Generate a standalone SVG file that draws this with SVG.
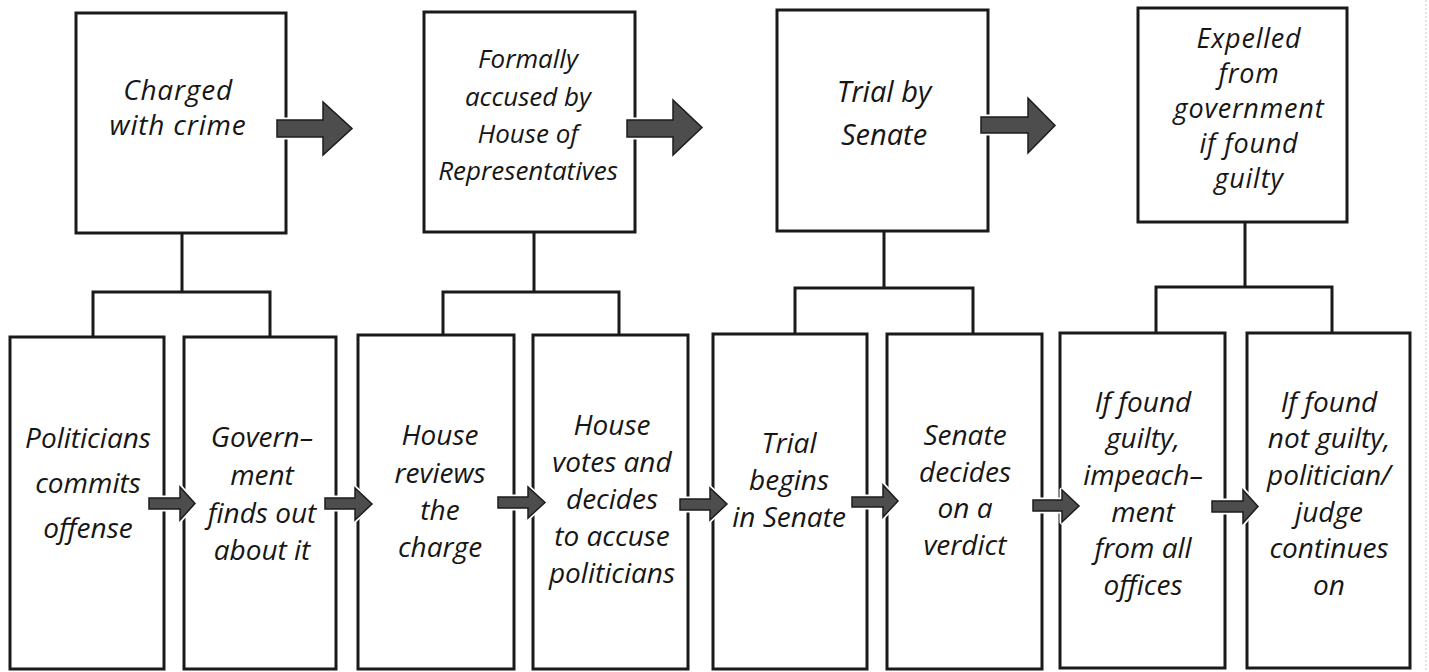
<svg xmlns="http://www.w3.org/2000/svg" width="1429" height="672" viewBox="0 0 1429 672">
  <style>
    .box { fill: #ffffff; stroke: #1a1a1a; stroke-width: 3; }
    .lbl { font-family: "Open Sans", "Noto Sans", sans-serif; font-style: italic; fill: #161616; text-anchor: middle; }
    .bot { font-size: 28px; }
    .wire { fill: none; stroke: #1a1a1a; stroke-width: 3; }
    .halo { fill: #ffffff; stroke: #ffffff; stroke-width: 5; stroke-linejoin: round; }
    .arrow { fill: #4d4d4d; stroke: #1c1c1c; stroke-width: 1.5; stroke-linejoin: miter; }
  </style>
  <rect width="1429" height="672" fill="#ffffff"/>

  <!-- faint scan edge on the right -->
  <line x1="1426" y1="0" x2="1426" y2="672" stroke="#c8c8c8" stroke-width="1" stroke-dasharray="2 2"/>

  <!-- top row: main stages -->
  <g id="stage-charged">
    <rect class="box" x="76" y="13" width="210" height="220"/>
    <text class="lbl" font-size="28" letter-spacing="0.8" x="178" y="100">Charged</text>
    <text class="lbl" font-size="28" letter-spacing="0.8" x="178" y="135">with crime</text>
  </g>
  <g id="stage-accused">
    <rect class="box" x="424" y="12" width="211" height="220"/>
    <text class="lbl" font-size="26" x="528" y="68">Formally</text>
    <text class="lbl" font-size="26" x="528" y="106">accused by</text>
    <text class="lbl" font-size="26" x="528" y="143">House of</text>
    <text class="lbl" font-size="26" x="528" y="180">Representatives</text>
  </g>
  <g id="stage-trial">
    <rect class="box" x="777" y="10" width="211" height="221"/>
    <text class="lbl" font-size="29" x="884" y="102">Trial by</text>
    <text class="lbl" font-size="29" x="884" y="145">Senate</text>
  </g>
  <g id="stage-expelled">
    <rect class="box" x="1138" y="8" width="209" height="214"/>
    <text class="lbl" font-size="27" letter-spacing="0.8" x="1249" y="48">Expelled</text>
    <text class="lbl" font-size="27" letter-spacing="0.8" x="1249" y="83">from</text>
    <text class="lbl" font-size="27" letter-spacing="0.8" x="1249" y="118">government</text>
    <text class="lbl" font-size="27" letter-spacing="0.8" x="1249" y="153">if found</text>
    <text class="lbl" font-size="27" letter-spacing="0.8" x="1249" y="188">guilty</text>
  </g>

  <!-- bottom row: detailed steps -->
  <g id="step-offense">
    <rect class="box" x="10" y="337" width="154" height="332"/>
    <text class="lbl bot" x="88" y="448">Politicians</text>
    <text class="lbl bot" x="88" y="493">commits</text>
    <text class="lbl bot" x="88" y="538">offense</text>
  </g>
  <g id="step-discovered">
    <rect class="box" x="184" y="337" width="152" height="332"/>
    <text class="lbl bot" x="262" y="447">Govern–</text>
    <text class="lbl bot" x="262" y="485">ment</text>
    <text class="lbl bot" x="262" y="523">finds out</text>
    <text class="lbl bot" x="262" y="560">about it</text>
  </g>
  <g id="step-review">
    <rect class="box" x="358" y="335" width="156" height="334"/>
    <text class="lbl bot" x="440" y="445">House</text>
    <text class="lbl bot" x="440" y="483">reviews</text>
    <text class="lbl bot" x="440" y="520">the</text>
    <text class="lbl bot" x="440" y="557">charge</text>
  </g>
  <g id="step-vote">
    <rect class="box" x="533" y="335" width="155" height="334"/>
    <text class="lbl bot" x="612" y="435">House</text>
    <text class="lbl bot" x="612" y="472">votes and</text>
    <text class="lbl bot" x="612" y="509">decides</text>
    <text class="lbl bot" x="612" y="546">to accuse</text>
    <text class="lbl bot" x="612" y="583">politicians</text>
  </g>
  <g id="step-trial-begins">
    <rect class="box" x="713" y="334" width="154" height="335"/>
    <text class="lbl bot" x="789" y="453">Trial</text>
    <text class="lbl bot" x="789" y="490">begins</text>
    <text class="lbl bot" x="789" y="527">in Senate</text>
  </g>
  <g id="step-verdict">
    <rect class="box" x="887" y="334" width="155" height="335"/>
    <text class="lbl bot" x="965" y="445">Senate</text>
    <text class="lbl bot" x="965" y="482">decides</text>
    <text class="lbl bot" x="965" y="518">on a</text>
    <text class="lbl bot" x="965" y="555">verdict</text>
  </g>
  <g id="step-guilty">
    <rect class="box" x="1060" y="333" width="165" height="335"/>
    <text class="lbl bot" x="1143" y="412">If found</text>
    <text class="lbl bot" x="1143" y="448">guilty,</text>
    <text class="lbl bot" x="1143" y="485">impeach–</text>
    <text class="lbl bot" x="1143" y="522">ment</text>
    <text class="lbl bot" x="1143" y="558">from all</text>
    <text class="lbl bot" x="1143" y="595">offices</text>
  </g>
  <g id="step-not-guilty">
    <rect class="box" x="1247" y="333" width="163" height="335"/>
    <text class="lbl bot" x="1329" y="412">If found</text>
    <text class="lbl bot" x="1329" y="448">not guilty,</text>
    <text class="lbl bot" x="1329" y="485">politician/</text>
    <text class="lbl bot" x="1329" y="522">judge</text>
    <text class="lbl bot" x="1329" y="558">continues</text>
    <text class="lbl bot" x="1329" y="595">on</text>
  </g>

  <!-- connectors: tree brackets and block arrows -->
  <g id="connectors">
    <path class="wire" d="M182 233 V292 M93 337 V292 H270 V337"/>
    <path class="wire" d="M534 232 V292 M443 335 V292 H619 V335"/>
    <path class="wire" d="M884 231 V288 M795 334 V288 H973 V334"/>
    <path class="wire" d="M1245 222 V287 M1156 333 V287 H1332 V333"/>

    <!-- top block arrows -->
    <g id="arrow-top-1">
      <path class="halo" d="M277 120 H323 V102 L352 128.5 L323 155 V137 H277 Z"/>
      <path class="arrow" d="M277 120 H323 V102 L352 128.5 L323 155 V137 H277 Z"/>
    </g>
    <g id="arrow-top-2">
      <path class="halo" d="M627 120 H673 V100 L702 127.5 L673 155 V137 H627 Z"/>
      <path class="arrow" d="M627 120 H673 V100 L702 127.5 L673 155 V137 H627 Z"/>
    </g>
    <g id="arrow-top-3">
      <path class="halo" d="M981 117 H1028 V98 L1055 125.5 L1028 153 V133 H981 Z"/>
      <path class="arrow" d="M981 117 H1028 V98 L1055 125.5 L1028 153 V133 H981 Z"/>
    </g>

    <!-- bottom block arrows -->
    <g id="arrow-bot-1">
      <path class="halo" d="M149 498 H180 V487 L195 503.5 L180 520 V509 H149 Z"/>
      <path class="arrow" d="M149 498 H180 V487 L195 503.5 L180 520 V509 H149 Z"/>
    </g>
    <g id="arrow-bot-2">
      <path class="halo" d="M325 498 H355 V488 L372 504 L355 520 V509 H325 Z"/>
      <path class="arrow" d="M325 498 H355 V488 L372 504 L355 520 V509 H325 Z"/>
    </g>
    <g id="arrow-bot-3">
      <path class="halo" d="M498 497 H528 V487 L545 502.5 L528 518 V508 H498 Z"/>
      <path class="arrow" d="M498 497 H528 V487 L545 502.5 L528 518 V508 H498 Z"/>
    </g>
    <g id="arrow-bot-4">
      <path class="halo" d="M680 499 H710 V488 L727 504 L710 520 V510 H680 Z"/>
      <path class="arrow" d="M680 499 H710 V488 L727 504 L710 520 V510 H680 Z"/>
    </g>
    <g id="arrow-bot-5">
      <path class="halo" d="M852 497 H883 V485 L898 501 L883 517 V507 H852 Z"/>
      <path class="arrow" d="M852 497 H883 V485 L898 501 L883 517 V507 H852 Z"/>
    </g>
    <g id="arrow-bot-6">
      <path class="halo" d="M1033 500 H1062 V490 L1079 506 L1062 522 V511 H1033 Z"/>
      <path class="arrow" d="M1033 500 H1062 V490 L1079 506 L1062 522 V511 H1033 Z"/>
    </g>
    <g id="arrow-bot-7">
      <path class="halo" d="M1212 501 H1243 V490 L1258 506.5 L1243 523 V512 H1212 Z"/>
      <path class="arrow" d="M1212 501 H1243 V490 L1258 506.5 L1243 523 V512 H1212 Z"/>
    </g>
  </g>
</svg>
